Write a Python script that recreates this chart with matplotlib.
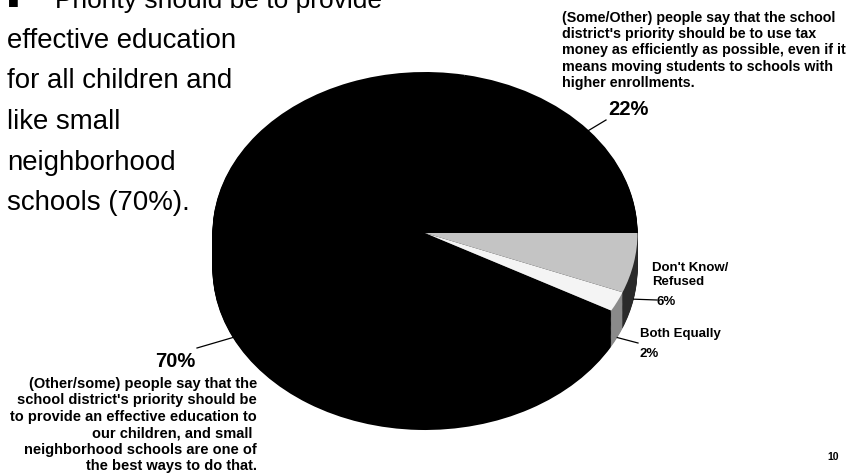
import numpy as np
import matplotlib.pyplot as plt

# -----------------------
# Data
# -----------------------
labels = ["Tax efficiency", "Small neighborhood schools", "Both Equally", "Don't Know/Refused"]
values = [22, 70, 2, 6]
top_colors = ["#000000", "#000000", "#f4f4f4", "#c4c4c4"]
side_colors = ["#000000", "#000000", "#8a8a8a", "#2a2a2a"]

bullet_lines = ["Priority should be to provide", "effective education", "for all children and",
                "like small", "neighborhood", "schools (70%)."]
text_22 = ("(Some/Other) people say that the school\n"
           "district's priority should be to use tax\n"
           "money as efficiently as possible, even if it\n"
           "means moving students to schools with\n"
           "higher enrollments.")
text_70 = ("(Other/some) people say that the\n"
           "school district's priority should be\n"
           "to provide an effective education to\n"
           "our children, and small \n"
           "neighborhood schools are one of\n"
           "the best ways to do that.")

# -----------------------
# Layout (pixels of the 854x475 picture)
# -----------------------
W, H = 854, 475
cx, cy = 425, 233     # apex of the top face
rx, ry = 212.5, 161   # radii of the top face
depth = 36            # thickness of the pie
FONT = "Liberation Sans"

fig = plt.figure(figsize=(W / 100, H / 100), dpi=100)
ax = fig.add_axes([0, 0, 1, 1])


def to_data(px, py):
    return (px - cx) / rx, (cy - py) / ry


def fig_xy(px, py):
    return px / W, 1 - py / H


# side wall: stack of shifted pies, then the top face
n_layers = 40
for k in np.linspace(depth, 1, n_layers):
    ax.pie(values, colors=side_colors, startangle=0, counterclock=True,
           center=(0, -k / ry), wedgeprops=dict(linewidth=0))
wedges, _ = ax.pie(values, colors=top_colors, startangle=0, counterclock=True,
                   center=(0, 0), wedgeprops=dict(linewidth=0))

ax.set_aspect("auto")
x0, y0 = to_data(0, 0)
x1, y1 = to_data(W, H)
ax.set_xlim(x0, x1)
ax.set_ylim(y1, y0)
ax.axis("off")

# -----------------------
# Leader lines from the slices to their labels
# -----------------------
label_ends = [(606, 120), (197, 348), (638, 343), (657, 300)]
for w, end in zip(wedges, label_ends):
    ang = np.deg2rad((w.theta1 + w.theta2) / 2)
    sx, sy = np.cos(ang), np.sin(ang)
    if sy < 0:
        sy -= depth / ry
    ex, ey = to_data(*end)
    ax.plot([sx, ex], [sy, ey], color="black", lw=0.9)

# -----------------------
# Texts (multi-line blocks are anchored on their last baseline)
# -----------------------
fig.text(*fig_xy(8, 8), "\u25a0", fontsize=13, family=FONT, va="baseline")
fig.text(*fig_xy(55, 8), bullet_lines[0], fontsize=19, family=FONT, va="baseline")
for i, line in enumerate(bullet_lines[1:]):
    fig.text(*fig_xy(7, 48 + i * 40.5), line, fontsize=19.9, family=FONT, va="baseline")

fig.text(*fig_xy(562, 87), text_22, fontsize=10.3, family=FONT, weight="bold",
         va="baseline", ha="left", linespacing=1.21)
fig.text(*fig_xy(628, 115), "22%", fontsize=14.5, family=FONT, weight="bold",
         va="baseline", ha="center")

fig.text(*fig_xy(175, 367), "70%", fontsize=14.5, family=FONT, weight="bold",
         va="baseline", ha="center")
fig.text(*fig_xy(257, 470), text_70, fontsize=10.5, family=FONT, weight="bold",
         va="baseline", ha="right", multialignment="right", linespacing=1.22)

fig.text(*fig_xy(652, 285), "Don't Know/\nRefused", fontsize=9.5, family=FONT,
         weight="bold", va="baseline", linespacing=1.25)
fig.text(*fig_xy(657, 305), "6%", fontsize=9.5, family=FONT, weight="bold", va="baseline")
fig.text(*fig_xy(640, 337), "Both Equally", fontsize=9.5, family=FONT, weight="bold", va="baseline")
fig.text(*fig_xy(640, 357), "2%", fontsize=9.5, family=FONT, weight="bold", va="baseline")

fig.text(*fig_xy(827, 460), "10", fontsize=7.5, family=FONT, weight="bold", va="baseline")

fig.savefig("out.png", dpi=100)
